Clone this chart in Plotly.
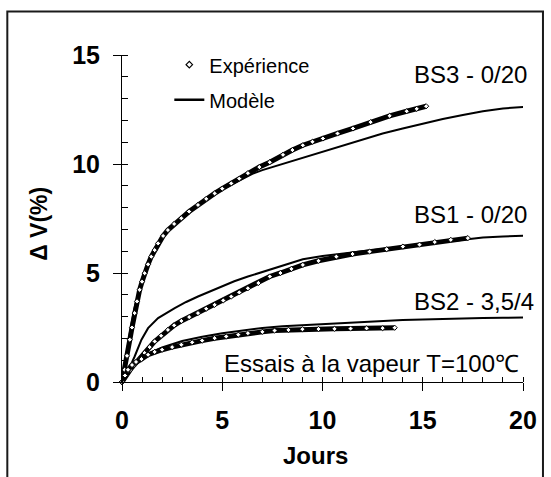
import plotly.graph_objects as go

# ---- measured swelling (experiment) ----
days_bs3_exp = [0, 0.13, 0.25, 0.39, 0.5, 0.63, 0.75, 0.88, 1.0, 1.13, 1.3, 1.46, 1.63, 1.8,
                2.05, 2.29, 2.6, 2.96, 3.35, 3.79, 4.2, 4.62, 5.0, 5.45, 5.85, 6.28, 6.85,
                7.37, 8.03, 8.5, 9.02, 9.5, 10.02, 10.75, 11.52, 12.4, 13.35, 14.2, 14.7, 15.17]
dv_bs3_exp = [0, 0.56, 1.2, 1.94, 2.5, 3.16, 3.7, 4.23, 4.6, 4.99, 5.4, 5.75, 6.05, 6.36,
              6.7, 6.97, 7.25, 7.51, 7.82, 8.12, 8.4, 8.65, 8.87, 9.11, 9.33, 9.58, 9.86,
              10.08, 10.42, 10.64, 10.86, 11.02, 11.17, 11.4, 11.63, 11.92, 12.21, 12.42, 12.53, 12.65]

days_bs1_exp = [0, 0.2, 0.4, 0.6, 0.85, 1.13, 1.38, 1.63, 1.95, 2.29, 2.6, 2.96, 3.35, 3.79,
                4.2, 4.62, 5.05, 5.45, 5.85, 6.28, 6.8, 7.37, 7.9, 8.45, 9.02, 9.8, 10.69,
                11.5, 12.35, 13.2, 14.01, 14.84, 15.6, 16.4, 17.25]
dv_bs1_exp = [0, 0.3, 0.55, 0.78, 1.02, 1.33, 1.6, 1.86, 2.12, 2.39, 2.6, 2.8, 2.98, 3.16,
              3.36, 3.54, 3.74, 3.92, 4.11, 4.3, 4.54, 4.84, 5.0, 5.19, 5.37, 5.56, 5.75,
              5.87, 5.98, 6.09, 6.21, 6.3, 6.42, 6.52, 6.6]

days_bs2_exp = [0, 0.15, 0.3, 0.5, 0.7, 0.97, 1.3, 1.63, 2.0, 2.5, 2.96, 3.5, 4.0, 4.62,
                5.2, 5.8, 6.28, 7.0, 7.61, 8.3, 9.0, 9.8, 10.6, 11.4, 12.2, 13.0, 13.6]
dv_bs2_exp = [0, 0.3, 0.56, 0.78, 0.92, 1.05, 1.25, 1.38, 1.48, 1.6, 1.71, 1.82, 1.9, 2.01,
              2.09, 2.17, 2.24, 2.3, 2.36, 2.39, 2.42, 2.43, 2.44, 2.45, 2.46, 2.47, 2.49]

# ---- model curves ----
days_bs3_mod = [0, 0.2, 0.4, 0.6, 0.8, 1.0, 1.3, 1.6, 2.0, 2.5, 3.0, 3.5, 4.0, 4.5, 5.0, 5.5,
                6.0, 6.5, 7.0, 7.5, 8.0, 9.0, 10.0, 11.0, 12.0, 13.0, 14.0, 15.0, 16.0, 17.0,
                18.0, 19.0, 20.2]
dv_bs3_mod = [0, 1.2, 2.3, 3.3, 4.1, 4.75, 5.5, 6.1, 6.65, 7.15, 7.55, 7.95, 8.25, 8.55, 8.82,
              9.08, 9.33, 9.55, 9.72, 9.86, 9.98, 10.28, 10.55, 10.84, 11.13, 11.4, 11.63,
              11.85, 12.06, 12.25, 12.42, 12.55, 12.63]

days_bs1_mod = [0, 0.3, 0.63, 0.97, 1.3, 1.8, 2.63, 3.2, 3.79, 4.4, 4.95, 5.6, 6.28, 7.0, 7.61,
                8.3, 9.02, 10.0, 11.0, 12.0, 13.0, 14.0, 15.0, 16.0, 17.0, 18.0, 19.0, 20.2]
dv_bs1_mod = [0, 0.5, 1.17, 1.94, 2.47, 2.93, 3.39, 3.67, 3.92, 4.16, 4.38, 4.62, 4.84, 5.05,
              5.25, 5.45, 5.63, 5.78, 5.9, 6.0, 6.1, 6.21, 6.33, 6.44, 6.55, 6.63, 6.68, 6.71]

days_bs2_mod = [0, 0.3, 0.6, 1.0, 1.5, 2.0, 3.0, 4.0, 5.0, 6.0, 7.0, 8.0, 9.0, 10.0, 11.0,
                12.0, 13.0, 14.0, 15.0, 16.0, 17.0, 18.0, 19.0, 20.2]
dv_bs2_mod = [0, 0.6, 0.92, 1.15, 1.38, 1.58, 1.88, 2.08, 2.24, 2.36, 2.48, 2.56, 2.61, 2.66,
              2.71, 2.76, 2.8, 2.84, 2.87, 2.9, 2.92, 2.94, 2.95, 2.96]

x_ticks = [0, 5, 10, 15, 20]
y_ticks = [0, 5, 10, 15]

FONT = "Liberation Sans, Arial, sans-serif"
INK = "black"

fig = go.Figure()

exp_marker = dict(symbol="diamond", size=4, color="white", line=dict(color=INK, width=1))

for dx, dy in [(days_bs3_mod, dv_bs3_mod), (days_bs1_mod, dv_bs1_mod), (days_bs2_mod, dv_bs2_mod)]:
    fig.add_trace(go.Scatter(x=dx, y=dy, mode="lines", line=dict(color=INK, width=2),
                             showlegend=False, hoverinfo="skip"))

for dx, dy in [(days_bs3_exp, dv_bs3_exp), (days_bs1_exp, dv_bs1_exp), (days_bs2_exp, dv_bs2_exp)]:
    fig.add_trace(go.Scatter(x=dx, y=dy, mode="lines+markers", line=dict(color=INK, width=5),
                             marker=exp_marker, cliponaxis=False, showlegend=False,
                             hoverinfo="skip"))

# legend entries
fig.add_trace(go.Scatter(x=[None], y=[None], mode="markers", name="Expérience",
                         marker=dict(symbol="diamond", size=5, color="white",
                                     line=dict(color=INK, width=1.2)),
                         legendgroup="a"))
fig.add_trace(go.Scatter(x=[None], y=[None], mode="lines", name="Modèle",
                         line=dict(color=INK, width=2.5), legendgroup="b"))

# helper trace so the overlay axes (inner half of the major ticks) are drawn
fig.add_trace(go.Scatter(x=[None], y=[None], xaxis="x2", yaxis="y2", showlegend=False,
                         hoverinfo="skip"))

tickfont = dict(family=FONT, size=25, color=INK, weight="bold")

fig.update_layout(
    width=551, height=477,
    margin=dict(l=122, r=28, t=55, b=95),
    paper_bgcolor="white", plot_bgcolor="white",
    font=dict(family=FONT, color=INK),
    xaxis=dict(range=[0, 20], tickvals=x_ticks, ticks="outside", ticklen=8, tickwidth=1,
               tickcolor=INK, showline=True, linecolor=INK, linewidth=1, showgrid=False,
               zeroline=False, tickfont=tickfont, ticklabelstandoff=8,
               minor=dict(ticks="inside", dtick=1, ticklen=5, tickcolor=INK, tickwidth=1)),
    yaxis=dict(range=[0, 15], tickvals=y_ticks, ticks="outside", ticklen=8, tickwidth=1,
               tickcolor=INK, showline=True, linecolor=INK, linewidth=1, showgrid=False,
               zeroline=False, tickfont=tickfont, ticklabelstandoff=8,
               minor=dict(ticks="inside", dtick=1, ticklen=6, tickcolor=INK, tickwidth=1)),
    xaxis2=dict(range=[0, 20], overlaying="x", anchor="y", side="bottom", tickvals=x_ticks,
                ticks="inside", ticklen=5, tickcolor=INK, showticklabels=False,
                showline=False, showgrid=False, zeroline=False),
    yaxis2=dict(range=[0, 15], overlaying="y", anchor="x", side="left", tickvals=y_ticks,
                ticks="inside", ticklen=6, tickcolor=INK, showticklabels=False,
                showline=False, showgrid=False, zeroline=False),
    legend=dict(x=0.118, y=1.03, xanchor="left", yanchor="top", bgcolor="rgba(0,0,0,0)",
                font=dict(family=FONT, size=20, color=INK), tracegroupgap=6,
                traceorder="grouped"),
    showlegend=True,
)

label_font = dict(family=FONT, size=24, color=INK)
fig.add_annotation(x=14.47, y=14.1, text="BS3 - 0/20", showarrow=False,
                   xanchor="left", yanchor="middle", font=label_font)
fig.add_annotation(x=14.47, y=7.68, text="BS1 - 0/20", showarrow=False,
                   xanchor="left", yanchor="middle", font=label_font)
fig.add_annotation(x=14.47, y=3.69, text="BS2 - 3,5/4", showarrow=False,
                   xanchor="left", yanchor="middle", font=label_font)
fig.add_annotation(x=5.0, y=0.85, text="Essais à la vapeur T=100℃", showarrow=False,
                   xanchor="left", yanchor="middle", font=label_font)

# axis titles
fig.add_annotation(x=0.4816, y=-0.225, xref="paper", yref="paper", text="<b>Jours</b>",
                   showarrow=False, xanchor="center", yanchor="middle",
                   font=dict(family=FONT, size=24, color=INK))
fig.add_annotation(x=-0.2076, y=0.483, xref="paper", yref="paper", text="<b>Δ V(%)</b>",
                   showarrow=False, textangle=-90, xanchor="center", yanchor="middle",
                   font=dict(family=FONT, size=23, color=INK))

# chart frame (open at the bottom)
fig.add_shape(type="path", xref="paper", yref="paper",
              path="M -0.286,-0.32 L -0.286,1.1334 L 1.0498,1.1334 L 1.0498,-0.32",
              line=dict(color="#1a1a1a", width=2))

fig.write_html("out.html")
